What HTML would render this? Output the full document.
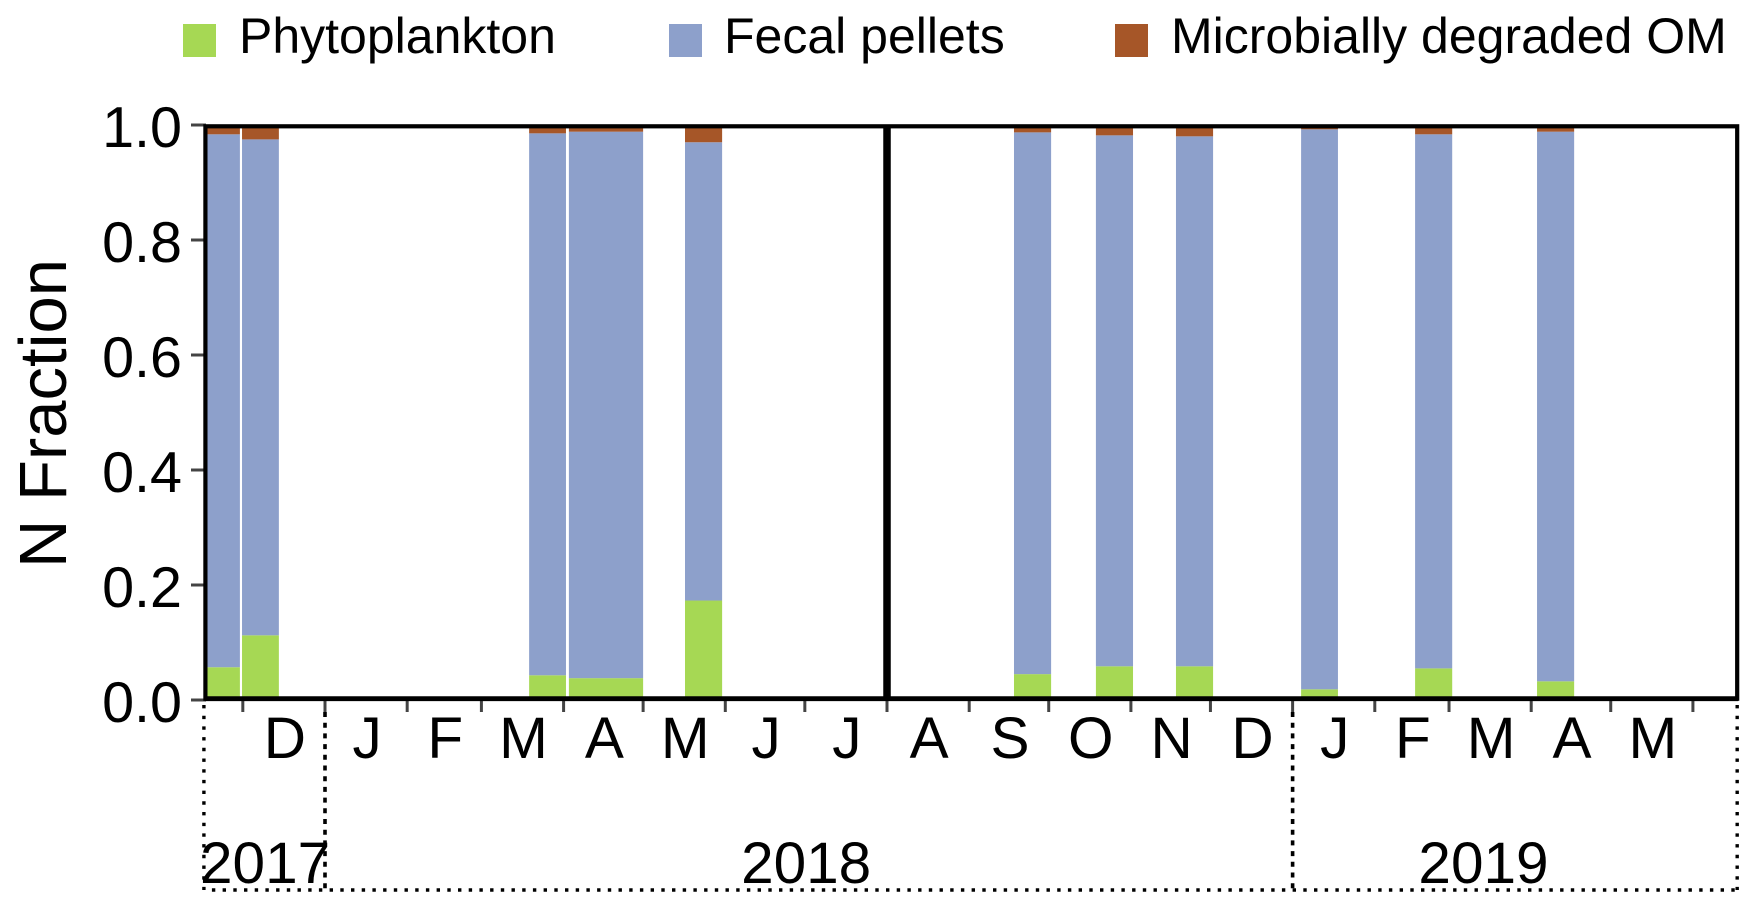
<!DOCTYPE html>
<html lang="en">
<head>
<meta charset="utf-8">
<title>N Fraction stacked bars</title>
<style>
html,body{margin:0;padding:0;background:#fff;width:1756px;height:909px;overflow:hidden}
svg{display:block;font-family:"Liberation Sans",Arial,sans-serif;fill:#000}
</style>
</head>
<body>
<svg id="chart" xmlns="http://www.w3.org/2000/svg" width="1756" height="909" viewBox="0 0 1756 909">
  <rect x="0" y="0" width="1756" height="909" fill="#fff"/>
  <g>
    <rect x="183" y="24" width="33" height="33" fill="#A6D854"/>
    <text x="239" y="53" font-size="50">Phytoplankton</text>
    <rect x="669" y="24" width="33" height="33" fill="#8DA0CB"/>
    <text x="724" y="53" font-size="50">Fecal pellets</text>
    <rect x="1115" y="24" width="33" height="33" fill="#A65628"/>
    <text x="1171" y="53" font-size="50">Microbially degraded OM</text>
  </g>
  <text transform="translate(66 568) rotate(-90)" font-size="67">N Fraction</text>
  <g id="bars"></g>
  <g id="axes"></g>
</svg>
<script>
// Sampling periods, in days relative to 2018-01-01
const startDay = [-44.5, -31.3, 77, 92, 135.8, 259.9, 290.8, 321, 368.2, 411.2, 457.2];
const endDay = [-32.1, -17.4, 90.9, 120, 149.8, 273.9, 304.8, 335, 382.1, 425.2, 471.2];
// N fraction series
const phytoplankton = [0.057, 0.1125, 0.043, 0.038, 0.173, 0.045, 0.0586, 0.0586, 0.0186, 0.055, 0.0325];
const fecalPellets = [0.9268, 0.8625, 0.9425, 0.9504, 0.797, 0.9422, 0.9234, 0.9217, 0.9739, 0.9288, 0.9559];
const microbialOM = [0.0162, 0.025, 0.0145, 0.0116, 0.03, 0.0128, 0.018, 0.0197, 0.0075, 0.0162, 0.0116];
// Axis content
const yTicks = [0, 0.2, 0.4, 0.6, 0.8, 1];
const yTickLabels = ["0.0", "0.2", "0.4", "0.6", "0.8", "1.0"];
const monthStartDays = [-31, 0, 31, 59, 90, 120, 151, 181, 212, 243, 273, 304, 334, 365, 396, 424, 455, 485, 516];
const monthLabels = ["D", "J", "F", "M", "A", "M", "J", "J", "A", "S", "O", "N", "D", "J", "F", "M", "A", "M"];
const yearLabels = ["2017", "2018", "2019"];
const yearLabelDays = [-22.6, 181.5, 437];
const yearBoundaryDays = [0, 365];
const axisStartDay = -45.3;
const axisEndDay = 532.7;
const markerDay = 212;

const NS = "http://www.w3.org/2000/svg";
const xScale = d => 325 + d * 2.651;
const yScale = v => 700 - v * 575;
const barsG = document.getElementById("bars");
const axesG = document.getElementById("axes");

function make(tag, parent, attrs) {
  const el = document.createElementNS(NS, tag);
  for (const k in attrs) el.setAttribute(k, attrs[k]);
  parent.appendChild(el);
  return el;
}

// Bars
const seriesList = [
  { key: "phytoplankton", vals: phytoplankton, color: "#A6D854" },
  { key: "fecal-pellets", vals: fecalPellets, color: "#8DA0CB" },
  { key: "microbial-om", vals: microbialOM, color: "#A65628" }
];
startDay.forEach((s, i) => {
  let cum = 0;
  seriesList.forEach(sr => {
    const y0 = yScale(cum);
    const y1 = yScale(cum + sr.vals[i]);
    const r = make("rect", barsG, {
      x: xScale(s), y: y1,
      width: xScale(endDay[i]) - xScale(s),
      height: y0 - y1, fill: sr.color
    });
    
    
    cum += sr.vals[i];
  });
});

// Y ticks and labels
yTicks.forEach((t, i) => {
  const l = make("line", axesG, { x1: 191, x2: 206, y1: yScale(t), y2: yScale(t), stroke: "#444", "stroke-width": 3 });
  
  
  const tx = make("text", axesG, { x: 182, y: yScale(t) + 22, "font-size": 57.5, "text-anchor": "end" });
  tx.textContent = yTickLabels[i];
  
  
});

// Month ticks and labels
monthStartDays.forEach(d => {
  const l = make("line", axesG, { x1: xScale(d), x2: xScale(d), y1: 699, y2: 712, stroke: "#444", "stroke-width": 3 });
  
  
});
monthLabels.forEach((m, i) => {
  const c = (monthStartDays[i] + monthStartDays[i + 1]) / 2;
  const tx = make("text", axesG, { x: xScale(c) + 1, y: 758, "font-size": 58.5, "text-anchor": "middle" });
  tx.textContent = m;
  
  
});

// Year labels
yearLabels.forEach((y, i) => {
  const tx = make("text", axesG, { x: xScale(yearLabelDays[i]), y: 883, "font-size": 58.5, "text-anchor": "middle" });
  tx.textContent = y;
  
  
});

// Year brackets
const outerDash = { stroke: "#000", "stroke-width": 3.4, "stroke-dasharray": "3.4 7.3" };
const bracketLeft = make("line", axesG, Object.assign({ x1: xScale(axisStartDay) - 1, x2: xScale(axisStartDay) - 1, y1: 705, y2: 890 }, outerDash));


const bracketRight = make("line", axesG, Object.assign({ x1: xScale(axisEndDay), x2: xScale(axisEndDay), y1: 705, y2: 890 }, outerDash));


const bracketBottom = make("line", axesG, Object.assign({ x1: xScale(axisStartDay) + 7, x2: xScale(axisEndDay), y1: 890, y2: 890 }, outerDash));


yearBoundaryDays.forEach(d => {
  const l = make("line", axesG, { x1: xScale(d), x2: xScale(d), y1: 712, y2: 890, stroke: "#000", "stroke-width": 3.6, "stroke-dasharray": "5 5.7" });
  
  
});

// Frame
const frame = make("rect", axesG, { x: xScale(axisStartDay) + 0.5, y: 126.3, width: xScale(axisEndDay) - xScale(axisStartDay) - 0.5, height: 572.4, fill: "none", stroke: "#000", "stroke-width": 4.2 });


const bottomAxis = make("line", axesG, { x1: xScale(axisStartDay), x2: xScale(axisEndDay) + 1, y1: 698.7, y2: 698.7, stroke: "#000", "stroke-width": 4.8 });


const marker = make("line", axesG, { x1: xScale(markerDay), x2: xScale(markerDay), y1: 126, y2: 699, stroke: "#000", "stroke-width": 7.5 });


</script>
</body>
</html>
